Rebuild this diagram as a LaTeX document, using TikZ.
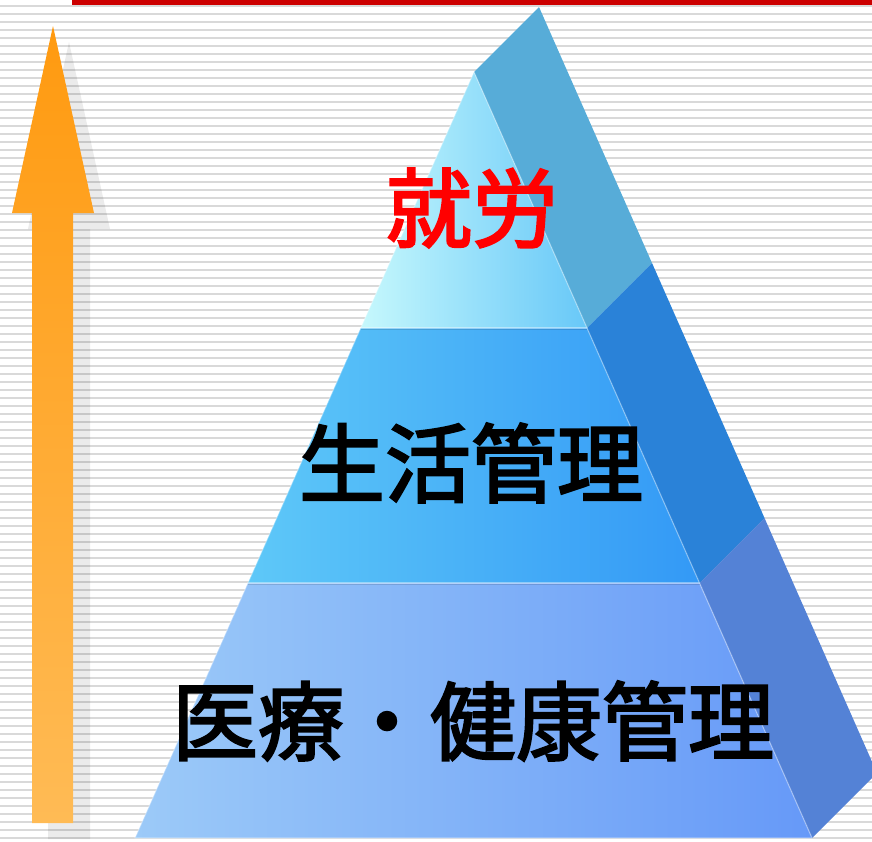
\documentclass[tikz,border=0pt]{standalone}
\usepackage{fontspec}
\newfontfamily\cjk[FakeBold=2.6]{Noto Sans CJK JP}
\definecolor{stripe}{HTML}{D9D9D9}
\definecolor{redline}{HTML}{CC0000}
\definecolor{arrtop}{HTML}{FF9A10}
\definecolor{arrbot}{HTML}{FFBB55}
\definecolor{topL}{HTML}{C6F8FC}
\definecolor{topR}{HTML}{68C8F8}
\definecolor{midL}{HTML}{5EC8F8}
\definecolor{midR}{HTML}{3399F6}
\definecolor{botL}{HTML}{9CCAF8}
\definecolor{botR}{HTML}{6699F8}
\definecolor{sideT}{HTML}{57ACD8}
\definecolor{sideM}{HTML}{2A82D8}
\definecolor{sideB}{HTML}{5482D6}
\definecolor{labred}{HTML}{FF0000}
\begin{document}
\begin{tikzpicture}[x=1pt,y=-1pt,
  lbl/.style={font=\cjk\fontsize{86}{92}\selectfont, inner sep=0pt, anchor=center},
  edge/.style={draw=white, draw opacity=0.35, line width=1.2pt, line join=round}]
\useasboundingbox (0,0) rectangle (872,841);
\begin{scope}
\clip (0,0) rectangle (872,841);
% background stripes
\foreach \i in {0,...,104} {
  \fill[stripe] (0,{5+8*\i}) rectangle (872,{7.2+8*\i});
}
% red line
\fill[redline] (72,0) rectangle (872,5);
% arrow shadow
\fill[black, opacity=0.08] (69,42) -- (110,229) -- (90,229) -- (90,839) -- (48,839) -- (48,229) -- (28,229) -- cycle;
% arrow
\shade[top color=arrtop, bottom color=arrbot] (53,26) -- (94,213) -- (73,213) -- (73,823) -- (32,823) -- (32,213) -- (12,213) -- cycle;
% right faces
\fill[sideT] (474,72) -- (539,7) -- (652,263) -- (587,328) -- cycle;
\fill[sideM] (587,328) -- (652,263) -- (764.5,518) -- (699.5,583) -- cycle;
\fill[sideB] (699.5,583) -- (764.5,518) -- (877,773) -- (812,838) -- cycle;
% front faces
\shade[left color=topL, right color=topR] (474,72) -- (587,328) -- (360.7,328) -- cycle;
\shade[left color=midL, right color=midR] (360.7,328) -- (587,328) -- (699.5,583) -- (247.9,583) -- cycle;
\shade[left color=botL, right color=botR] (247.9,583) -- (699.5,583) -- (812,838) -- (135,838) -- cycle;
\path[edge] (474,72) -- (587,328) -- (360.7,328) -- cycle;
\path[edge] (360.7,328) -- (587,328) -- (699.5,583) -- (247.9,583) -- cycle;
\path[edge] (247.9,583) -- (699.5,583) -- (812,838) -- (135,838) -- cycle;
\draw[black, opacity=0.12, line width=1.5pt] (360.7,329.5) -- (587,329.5);
\draw[black, opacity=0.12, line width=1.5pt] (247.9,584.5) -- (699.5,584.5);
\end{scope}
% labels
\node[lbl, text=labred] (l1) at (472,208) {就労};
\node[lbl, text=black] (l2) at (471,463) {生活管理};
\node[lbl, text=black] (l3) at (473,721) {医療・健康管理};
\end{tikzpicture}
\end{document}
